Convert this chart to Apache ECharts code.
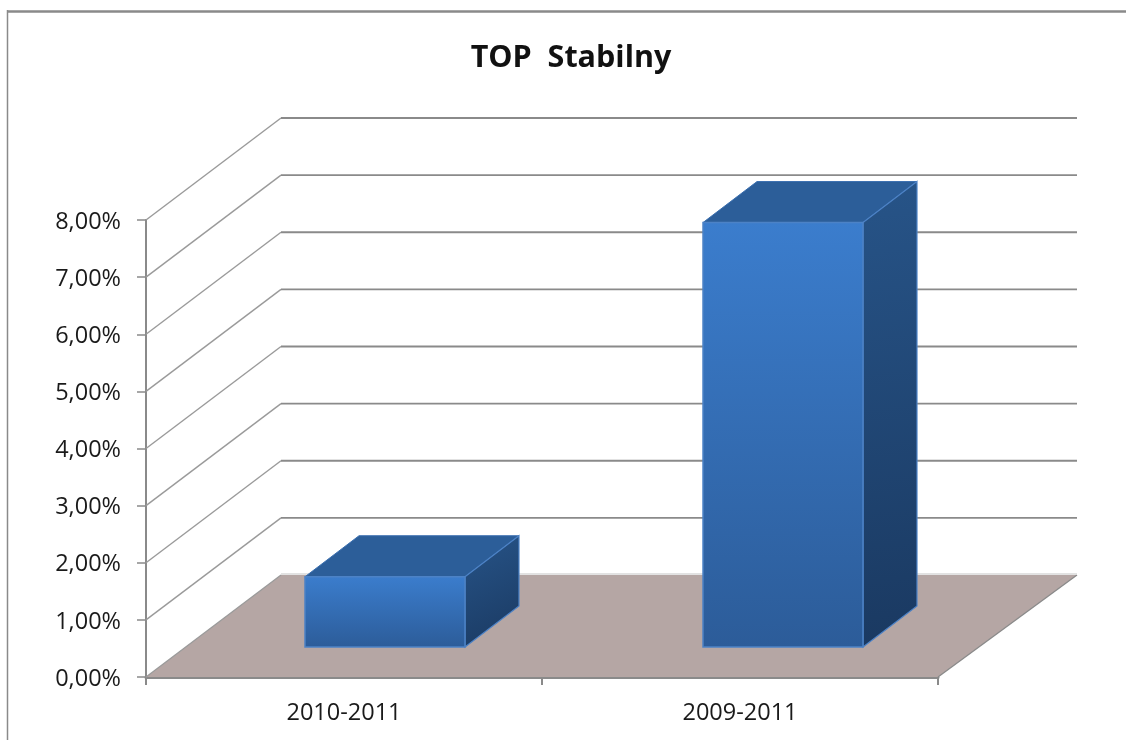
<!DOCTYPE html>
<html>
<head>
<meta charset="utf-8">
<style>html,body{margin:0;padding:0;background:#fff}#c{width:1126px;height:740px}</style>
<script src="https://cdn.jsdelivr.net/npm/echarts@6/dist/echarts.min.js"></script>
</head>
<body>
<div id="c"></div>
<script>
const titleText = 'TOP  Stabilny';
const categories = ['2010-2011', '2009-2011'];
const barValues = [1.23, 7.43];
const yTicks = [0, 1, 2, 3, 4, 5, 6, 7, 8];

// oblique projection used to fake the 3D look
const WALL_DX = 135, WALL_DY = 102;   // depth of the whole plot floor
const BAR_SHIFT_DX = 41, BAR_SHIFT_DY = 30; // where bar fronts sit in depth
const BAR_NUDGE = 2;                  // extra sideways step per category
const BAR_DX = 54, BAR_DY = 41;       // depth of each bar
const BAR_RATIO = 0.404;

const FONT = '"Open Sans", sans-serif';
const LINE = '#8a8a8a';
const grad = echarts.graphic.LinearGradient;

const chart = echarts.init(document.getElementById('c'), null, {renderer: 'canvas'});

function renderWall(params, api) {
  const cs = params.coordSys;
  const v = api.value(1);
  const y = api.coord([0, v])[1];
  const x0 = cs.x, x1 = cs.x + cs.width;
  const children = [];
  if (v === 0) {
    children.push({
      type: 'polygon',
      shape: {points: [[x0, y], [x1, y], [x1 + WALL_DX + 4, y - WALL_DY], [x0 + WALL_DX, y - WALL_DY]]},
      style: {fill: '#b5a6a4'}
    });
    children.push({
      type: 'line',
      shape: {x1: x1, y1: y, x2: x1 + WALL_DX + 4, y2: y - WALL_DY},
      style: {stroke: LINE, lineWidth: 1.3}
    });
    children.push({
      type: 'line',
      shape: {x1: x0 + WALL_DX, y1: y - WALL_DY - 1, x2: x1 + WALL_DX + 4, y2: y - WALL_DY - 1},
      style: {stroke: '#d9d9d9', lineWidth: 1.5}
    });
    children.push({
      type: 'line',
      shape: {x1: x0, y1: y, x2: x0 + WALL_DX, y2: y - WALL_DY},
      style: {stroke: '#9a9a9a', lineWidth: 1.2}
    });
  } else {
    // diagonal on the side wall, then the run along the back wall
    children.push({
      type: 'line',
      shape: {x1: x0, y1: y, x2: x0 + WALL_DX, y2: y - WALL_DY},
      style: {stroke: '#9a9a9a', lineWidth: 1.4}
    });
    children.push({
      type: 'line',
      shape: {x1: x0 + WALL_DX, y1: y - WALL_DY, x2: x1 + WALL_DX + 4, y2: y - WALL_DY},
      style: {stroke: LINE, lineWidth: v === yTicks[yTicks.length - 1] ? 2.2 : 1.8}
    });
  }
  return {type: 'group', children};
}

function renderBar(params, api) {
  const cat = api.value(0), val = api.value(1);
  const top = api.coord([cat, val]);
  const bot = api.coord([cat, 0]);
  const w = api.size([1, 0])[0] * BAR_RATIO;
  const xl = top[0] - w / 2 + BAR_SHIFT_DX + cat * BAR_NUDGE, xr = xl + w;
  const yt = top[1] - BAR_SHIFT_DY, yb = bot[1] - BAR_SHIFT_DY;
  const edge = '#4c82c6';
  return {
    type: 'group',
    children: [
      {
        type: 'polygon',
        shape: {points: [[xl, yt], [xr, yt], [xr + BAR_DX, yt - BAR_DY], [xl + BAR_DX, yt - BAR_DY]]},
        style: {fill: '#2c5e99', stroke: '#3a6fb0', lineWidth: 1}
      },
      {
        type: 'polygon',
        shape: {points: [[xr, yt], [xr + BAR_DX, yt - BAR_DY], [xr + BAR_DX, yb - BAR_DY], [xr, yb]]},
        style: {
          fill: new grad(0, 0, 1, 1, [
            {offset: 0, color: '#275488'},
            {offset: 1, color: '#1a3961'}
          ]),
          stroke: edge, lineWidth: 1.2
        }
      },
      {
        type: 'rect',
        shape: {x: xl, y: yt, width: w, height: yb - yt},
        style: {
          fill: new grad(0, 0, 0, 1, [
            {offset: 0, color: '#3b7dcd'},
            {offset: 1, color: '#2c5c99'}
          ]),
          stroke: edge, lineWidth: 1.5
        }
      }
    ]
  };
}

chart.setOption({
  animation: false,
  backgroundColor: '#ffffff',
  title: {
    text: titleText,
    left: 566, top: 38, textAlign: 'center',
    textStyle: {fontFamily: FONT, fontWeight: 700, fontSize: 30.5, color: '#111'}
  },
  grid: {left: 146, right: 188, top: 220, bottom: 63},
  xAxis: {
    type: 'category',
    data: categories,
    axisLine: {lineStyle: {color: LINE, width: 3}},
    axisTick: {show: true, alignWithLabel: false, length: 8, lineStyle: {color: LINE, width: 2}},
    axisLabel: {fontFamily: FONT, fontSize: 23.5, color: '#1a1a1a', margin: 24},
    splitLine: {show: false}
  },
  yAxis: {
    type: 'value',
    min: yTicks[0],
    max: yTicks[yTicks.length - 1],
    interval: 1,
    axisLine: {show: true, lineStyle: {color: LINE, width: 2}},
    axisTick: {show: true, length: 9, lineStyle: {color: LINE, width: 1.5}},
    axisLabel: {
      fontFamily: FONT, fontSize: 23.5, color: '#1a1a1a', margin: 25,
      verticalAlign: 'top', lineHeight: 4,
      formatter: v => v.toFixed(2).replace('.', ',') + '%'
    },
    splitLine: {show: false}
  },
  series: [
    {
      type: 'custom',
      name: 'walls',
      z: 1,
      silent: true,
      renderItem: renderWall,
      encode: {x: 0, y: 1},
      data: yTicks.map(t => [0, t])
    },
    {
      type: 'custom',
      name: 'TOP Stabilny',
      z: 3,
      renderItem: renderBar,
      encode: {x: 0, y: 1},
      data: barValues.map((v, i) => [i, v])
    }
  ],
  graphic: [
    {type: 'line', silent: true, shape: {x1: 7.5, y1: 10, x2: 7.5, y2: 740}, style: {stroke: '#8a8a8a', lineWidth: 1.5}},
    {type: 'line', silent: true, shape: {x1: 7, y1: 11.5, x2: 1126, y2: 11.5}, style: {stroke: '#8a8a8a', lineWidth: 2.5}}
  ]
});
</script>
</body>
</html>
